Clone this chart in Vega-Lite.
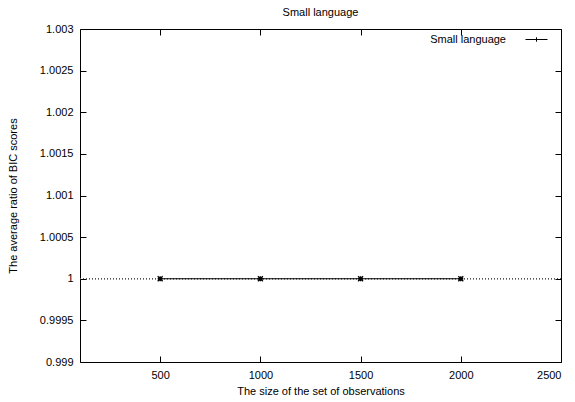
{
  "$schema": "https://vega.github.io/schema/vega-lite/v6.json",
  "width": 481,
  "height": 333,
  "autosize": {"type": "none"},
  "padding": {"left": 80, "top": 29, "right": 14, "bottom": 40},
  "background": "white",
  "title": {"text": "Small language", "fontSize": 11, "font": "Liberation Sans", "fontWeight": "normal", "color": "black", "offset": 5},
  "config": {
    "font": "Liberation Sans",
    "view": {"stroke": "black", "strokeWidth": 1},
    "axis": {
      "domain": false,
      "labelColor": "black",
      "titleColor": "black",
      "labelFontSize": 11,
      "titleFontSize": 11,
      "titleFontWeight": "normal",
      "grid": false,
      "labelFont": "Liberation Sans",
      "titleFont": "Liberation Sans"
    }
  },
  "data": {
    "values": [
      {"size": 500, "ratio": 1, "series": "Small language"},
      {"size": 1000, "ratio": 1, "series": "Small language"},
      {"size": 1500, "ratio": 1, "series": "Small language"},
      {"size": 2000, "ratio": 1, "series": "Small language"}
    ]
  },
  "resolve": {"axis": {"x": "independent", "y": "independent"}},
  "layer": [
    {
      "mark": {"type": "rule", "color": "#555555", "strokeDash": [1, 2], "strokeWidth": 1},
      "encoding": {
        "y": {"datum": 1, "type": "quantitative", "axis": null}
      }
    },
    {
      "mark": {"type": "line", "color": "black", "strokeWidth": 1},
      "encoding": {
        "x": {
          "field": "size", "type": "quantitative",
          "scale": {"domain": [100, 2500], "nice": false, "zero": false},
          "axis": {"orient": "bottom", "values": [500, 1000, 1500, 2000, 2500], "format": "d", "title": "The size of the set of observations", "labelPadding": 7, "titlePadding": 5, "ticks": true, "tickSize": 6, "tickWidth": 1, "offset": -6, "tickColor": "black", "zindex": 1}
        },
        "y": {
          "field": "ratio", "type": "quantitative",
          "scale": {"domain": [0.999, 1.003], "nice": false, "zero": false},
          "axis": {"orient": "left", "values": [0.999, 0.9995, 1, 1.0005, 1.001, 1.0015, 1.002, 1.0025, 1.003], "format": "~g", "title": "The average ratio of BIC scores", "labelPadding": 7, "titlePadding": 21, "ticks": true, "tickSize": 6, "tickWidth": 1, "offset": -6, "tickColor": "black", "zindex": 1}
        },
        "color": {
          "field": "series", "type": "nominal",
          "scale": {"range": ["black"]},
          "legend": {
            "title": null,
            "orient": "none",
            "legendX": 445,
            "legendY": -1,
            "padding": 0,
            "symbolType": "M-1,0H1M0,-0.2V0.2",
            "symbolSize": 484,
            "symbolStrokeWidth": 1,
            "symbolStrokeColor": "black",
            "labelAlign": "right",
            "labelOffset": -42,
            "labelFontSize": 11,
            "labelFont": "Liberation Sans",
            "labelColor": "black"
          }
        }
      }
    },
    {
      "mark": {"type": "point", "shape": "M-1,-1L1,1M-1,1L1,-1M-1,0H1M0,-1V1", "size": 25, "color": "black", "filled": false, "strokeWidth": 1.3, "opacity": 1},
      "encoding": {
        "x": {"field": "size", "type": "quantitative", "axis": {"orient": "top", "values": [500, 1000, 1500, 2000, 2500], "labels": false, "title": null, "ticks": true, "tickSize": 6, "tickWidth": 1, "offset": -6, "tickColor": "black", "zindex": 1}},
        "y": {"field": "ratio", "type": "quantitative", "axis": {"orient": "right", "values": [0.999, 0.9995, 1, 1.0005, 1.001, 1.0015, 1.002, 1.0025, 1.003], "labels": false, "title": null, "ticks": true, "tickSize": 6, "tickWidth": 1, "offset": -6, "tickColor": "black", "zindex": 1}}
      }
    }
  ]
}
